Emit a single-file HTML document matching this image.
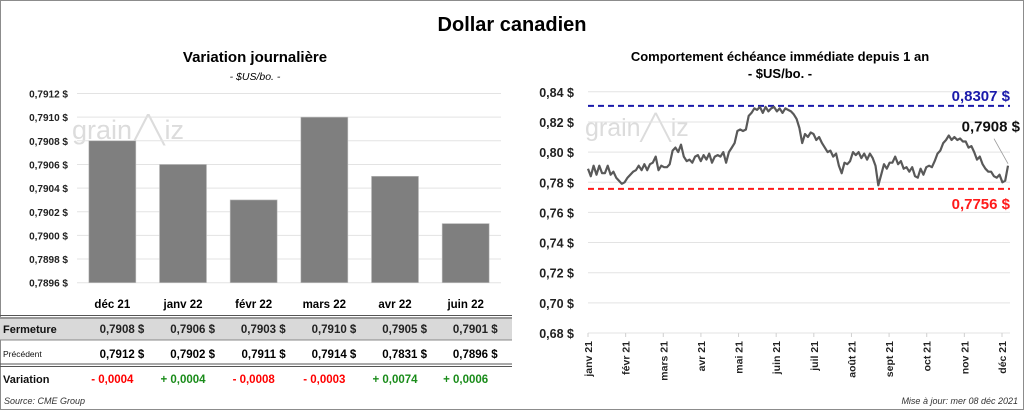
<!DOCTYPE html>
<html><head><meta charset="utf-8"><style>
body{margin:0;width:1024px;height:410px;overflow:hidden;background:#fff;font-family:"Liberation Sans",sans-serif}
#wrap{position:absolute;left:0;top:0;width:1022px;height:408px;border:1px solid #8c8c8c}
svg{position:absolute;left:0;top:0}
</style></head><body>
<div id="wrap"></div>
<svg id="s" width="1024" height="410">
<text x="512" y="31" text-anchor="middle" font-size="20" font-weight="bold">Dollar canadien</text>
<text x="255" y="62" text-anchor="middle" font-size="15" font-weight="bold">Variation  journalière</text>
<text x="255" y="80" text-anchor="middle" font-size="10.5" font-style="italic">- $US/bo. -</text>
<text x="780" y="61" text-anchor="middle" font-size="13" font-weight="bold">Comportement échéance immédiate depuis 1 an</text>
<text x="780" y="78" text-anchor="middle" font-size="13" font-weight="bold">- $US/bo. -</text>
<g id="left"></g>
<g id="right"></g>
<g id="table"></g>
<text x="4" y="404" font-size="9" font-style="italic" fill="#333">Source: CME Group</text>
<text x="1018" y="404" text-anchor="end" font-size="9" font-style="italic" fill="#333">Mise à jour: mer 08 déc 2021</text>
</svg>
<script>
const NS="http://www.w3.org/2000/svg";
function mk(p,t,a){const e=document.createElementNS(NS,t);for(const k in a)e.setAttribute(k,a[k]);p.appendChild(e);return e;}

const barCategories=["déc 21","janv 22","févr 22","mars 22","avr 22","juin 22"];
const barValues=[0.7908,0.7906,0.7903,0.7910,0.7905,0.7901];
const barTicks=[0.7896,0.7898,0.7900,0.7902,0.7904,0.7906,0.7908,0.7910,0.7912];
const closeLabels=["0,7908","0,7906","0,7903","0,7910","0,7905","0,7901"];
const prevLabels=["0,7912","0,7902","0,7911","0,7914","0,7831","0,7896"];
const varLabels=["- 0,0004","+ 0,0004","- 0,0008","- 0,0003","+ 0,0074","+ 0,0006"];

const lineTicks=[0.68,0.70,0.72,0.74,0.76,0.78,0.80,0.82,0.84];
const monthLabels=["janv 21","févr 21","mars 21","avr 21","mai 21","juin 21","juil 21","août 21","sept 21","oct 21","nov 21","déc 21"];
const lineValues=[0.789,0.784,0.791,0.785,0.791,0.786,0.786,0.791,0.785,0.787,0.783,
0.781,0.779,0.780,0.783,0.785,0.787,0.788,0.791,0.788,0.792,0.788,0.792,0.793,0.797,0.788,
0.791,0.790,0.790,0.792,0.801,0.803,0.800,0.805,0.797,0.794,0.795,0.793,0.797,0.798,0.794,
0.798,0.795,0.799,0.793,0.797,0.798,0.797,0.800,0.793,0.800,0.803,0.806,0.814,0.815,0.814,
0.815,0.824,0.826,0.829,0.828,0.830,0.826,0.830,0.827,0.829,0.830,0.827,0.829,0.826,0.829,0.828,0.827,
0.825,0.822,0.816,0.806,0.812,0.810,0.813,0.812,0.808,0.810,0.806,0.803,
0.800,0.801,0.797,0.799,0.791,0.786,0.793,0.792,0.794,0.800,0.798,
0.800,0.796,0.799,0.795,0.799,0.796,0.791,0.778,0.785,0.792,0.789,0.793,0.793,0.797,
0.792,0.794,0.789,0.790,0.787,0.790,0.784,0.783,0.789,0.785,0.790,0.791,0.790,0.794,
0.799,0.801,0.806,0.808,0.811,0.808,0.810,0.808,0.809,0.807,0.807,
0.803,0.804,0.800,0.795,0.797,0.792,0.789,0.787,0.787,0.784,0.783,0.785,0.780,0.781,0.791];
const highValue=0.8307, lowValue=0.7756, lastLabel="0,7908 $";

const fmt=(v,d)=>v.toFixed(d).replace('.',',')+' $';

// left bar chart
const L=document.getElementById('left');
const lx0=77,lx1=501,ly=v=>282.7-(v-0.7896)/0.0002*23.65;
const band=(lx1-lx0)/barCategories.length;
mk(L,'text',{x:72,y:139,'font-size':27,fill:'#dcdcdc',}).textContent='grain\u2571\u2572iz';
barTicks.forEach(t=>{
 const g=mk(L,'line',{x1:lx0,x2:lx1,y1:ly(t),y2:ly(t),stroke:'#e3e3e3'});
 
 const tx=mk(L,'text',{x:68,y:ly(t)+4,'text-anchor':'end','font-size':10,'font-weight':'bold',fill:'#222'});
 
 tx.textContent=fmt(t,4);
});
barValues.forEach((v,i)=>{
 const cx=lx0+band*(i+0.5);
 const r=mk(L,'rect',{x:cx-23.5,y:ly(v),width:47,height:ly(0.7896)-ly(v),fill:'#7f7f7f',stroke:'#bfbfbf','stroke-width':0.6});
 
 
});

// table
const T=document.getElementById('table');
const bg=mk(T,'rect',{x:0,y:317,width:512,height:23,fill:'#d9d9d9'});

[[315.5,'#555'],[318,'#555'],[340,'#888'],[364,'#555'],[366.5,'#555']].forEach(([y,c])=>{
 const l=mk(T,'line',{x1:0,x2:512,y1:y,y2:y,stroke:c,'stroke-width':1});
 
});
const rowLab=[["Fermeture",333,11,'bold'],["Précédent",357,8.5,'normal'],["Variation",383,11,'bold']];
rowLab.forEach(([t,y,fs,fw])=>{
 const e=mk(T,'text',{x:3,y:y,'font-size':fs,'font-weight':fw,fill:'#111'});
 
 e.textContent=t;
});
barCategories.forEach((c,i)=>{
 const cx=lx0+band*(i+0.5);
 const h=mk(T,'text',{x:cx,y:308,'text-anchor':'middle','font-size':11.5,'font-weight':'bold'});
 
 h.textContent=c;
 const a=mk(T,'text',{x:cx+32,y:333,'text-anchor':'end','font-size':11.5,'font-weight':'bold',fill:'#222'});
 
 a.textContent=closeLabels[i]+'  $';
 const b=mk(T,'text',{x:cx+32,y:358,'text-anchor':'end','font-size':11.5,'font-weight':'bold',fill:'#000'});
 
 b.textContent=prevLabels[i]+'  $';
 const d=mk(T,'text',{x:cx,y:383,'text-anchor':'middle','font-size':11.5,'font-weight':'bold',fill:varLabels[i][0]=='-'?'#ff0000':'#1a8c1a'});
 
 d.textContent=varLabels[i];
});

// right line chart
const R=document.getElementById('right');
const rx0=588,rx1=1008,ry=v=>333-(v-0.68)/0.02*30.15;
mk(R,'text',{x:585,y:136,'font-size':25,fill:'#dcdcdc',}).textContent='grain\u2571\u2572iz';
lineTicks.forEach(t=>{
 const g=mk(R,'line',{x1:rx0,x2:1010,y1:ry(t),y2:ry(t),stroke:'#e3e3e3'});
 
 const tx=mk(R,'text',{x:574,y:ry(t)+5,'text-anchor':'end','font-size':12.5,'font-weight':'bold',fill:'#222'});
 
 tx.textContent=fmt(t,2);
});
const mstep=(1002-588)/(monthLabels.length-1);
monthLabels.forEach((m,i)=>{
 const x=588+mstep*i;
 const tk=mk(R,'line',{x1:x,x2:x,y1:333,y2:337,stroke:'#d0d0d0'});
 
 const tx=mk(R,'text',{x:0,y:0,transform:`translate(${x+4},341) rotate(-90)`,'text-anchor':'end','font-size':10.5,'font-weight':'bold',fill:'#222'});
 
 tx.textContent=m;
});
const hl=mk(R,'line',{x1:rx0,x2:1010,y1:ry(highValue),y2:ry(highValue),stroke:'#1a1aaa','stroke-width':2,'stroke-dasharray':'6,4'});

const ll=mk(R,'line',{x1:rx0,x2:1010,y1:ry(lowValue),y2:ry(lowValue),stroke:'#ff1a1a','stroke-width':2,'stroke-dasharray':'6,4'});

const ht=mk(R,'text',{x:1010,y:ry(highValue)-5,'text-anchor':'end','font-size':15,'font-weight':'bold',fill:'#1a1aaa'});

ht.textContent=fmt(highValue,4).replace(' $','  $');
const lt=mk(R,'text',{x:1010,y:ry(lowValue)+20,'text-anchor':'end','font-size':15,'font-weight':'bold',fill:'#ff1a1a'});

lt.textContent=fmt(lowValue,4).replace(' $','  $');
const n=lineValues.length;
const px=i=>rx0+(rx1-rx0)*i/(n-1);
const pts=lineValues.map((v,i)=>px(i).toFixed(1)+','+ry(v).toFixed(1)).join(' ');
const pl=mk(R,'polyline',{points:pts,fill:'none',stroke:'#595959','stroke-width':2.2,'stroke-linejoin':'round'});

const lastX=px(n-1),lastY=ry(lineValues[n-1]);
const ln=mk(R,'line',{x1:lastX,y1:lastY-2,x2:lastX-14,y2:lastY-27,stroke:'#999','stroke-width':0.8});

const lv=mk(R,'text',{x:1020,y:lastY-34,'text-anchor':'end','font-size':15,'font-weight':'bold',fill:'#111'});

lv.textContent=lastLabel;
</script>
</body></html>
